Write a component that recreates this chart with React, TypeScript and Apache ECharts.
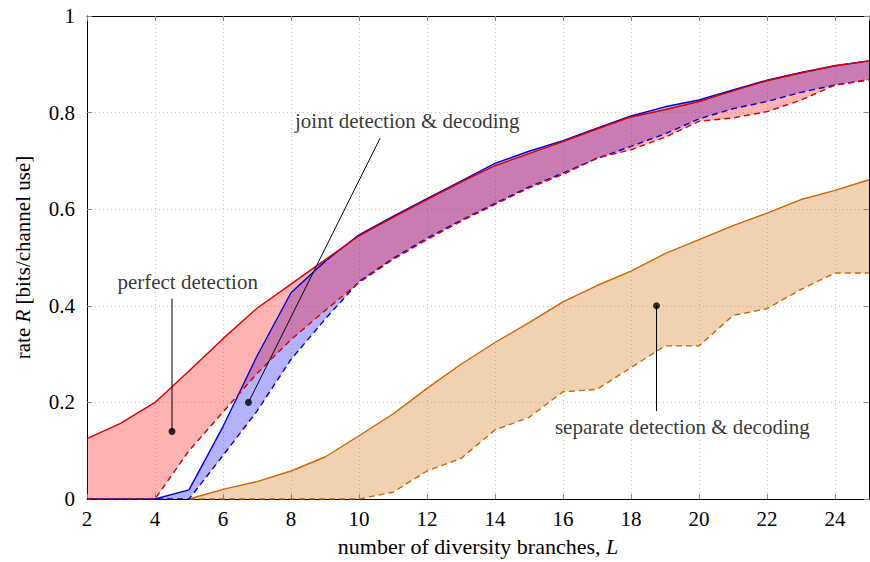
import React, { useEffect, useRef } from "react";
import * as echarts from "echarts";

// number of diversity branches
const L = [2, 3, 4, 5, 6, 7, 8, 9, 10, 11, 12, 13, 14, 15, 16, 17, 18, 19, 20, 21, 22, 23, 24, 25];

// perfect detection (red): upper (solid) and lower (dashed) bounds
const perfectUpper = [0.125, 0.157, 0.2, 0.265, 0.332, 0.395, 0.445, 0.495, 0.545, 0.583, 0.62, 0.656, 0.69, 0.715, 0.74, 0.766, 0.791, 0.806, 0.823, 0.845, 0.866, 0.882, 0.897, 0.907];
const perfectLower = [0, 0, 0, 0.1, 0.18, 0.26, 0.33, 0.39, 0.448, 0.496, 0.537, 0.575, 0.61, 0.644, 0.672, 0.706, 0.723, 0.749, 0.782, 0.789, 0.802, 0.826, 0.857, 0.868];

// joint detection & decoding (blue)
const jointUpper = [0, 0, 0, 0.019, 0.15, 0.296, 0.427, 0.492, 0.547, 0.585, 0.622, 0.658, 0.695, 0.72, 0.742, 0.768, 0.793, 0.812, 0.826, 0.847, 0.867, 0.883, 0.897, 0.907];
const jointLower = [0, 0, 0, 0, 0.09, 0.182, 0.289, 0.372, 0.45, 0.498, 0.54, 0.577, 0.612, 0.646, 0.675, 0.705, 0.73, 0.756, 0.787, 0.808, 0.823, 0.842, 0.857, 0.868];

// separate detection & decoding (orange)
const sepUpper = [null, null, null, 0, 0.02, 0.036, 0.058, 0.087, 0.131, 0.176, 0.229, 0.279, 0.324, 0.365, 0.408, 0.442, 0.472, 0.508, 0.537, 0.566, 0.592, 0.62, 0.639, 0.661];
const sepLower = [null, null, null, 0, 0, 0, 0, 0, 0, 0.014, 0.058, 0.084, 0.143, 0.169, 0.222, 0.227, 0.272, 0.317, 0.317, 0.38, 0.394, 0.434, 0.468, 0.468];

// annotations: text anchor, pointer start, pointer dot
const annotationTexts = ["perfect detection", "joint detection & decoding", "separate detection & decoding"];
const annotationTextPos = [[4.96, 0.45], [11.42, 0.783], [19.51, 0.149]];
const annotationLineStart = [[4.5, 0.415], [10.62, 0.747], [18.75, 0.182]];
const annotationDot = [[4.5, 0.14], [6.75, 0.2], [18.75, 0.4]];

const FONT = "'Liberation Serif', 'DejaVu Serif', serif";
const RED = "#d40000";
const BLUE = "#0000d0";
const ORANGE = "#cc6600";

function pairs(ys: (number | null)[]) {
  return L.map((x, i) => [x, ys[i]]);
}

function band(upper: (number | null)[], lower: (number | null)[], fill: string, z: number) {
  return {
    type: "custom",
    data: [[2, 0]],
    z,
    silent: true,
    renderItem: (_params: any, api: any) => {
      const top: number[][] = [];
      const bot: number[][] = [];
      for (let i = 0; i < L.length; i++) {
        if (upper[i] == null || lower[i] == null) continue;
        top.push(api.coord([L[i], upper[i]]));
        bot.push(api.coord([L[i], lower[i]]));
      }
      return {
        type: "polygon",
        shape: { points: top.concat(bot.reverse()) },
        style: { fill },
      };
    },
  };
}

function line(ys: (number | null)[], color: string, dashed: boolean, z: number) {
  return {
    type: "line",
    data: pairs(ys),
    showSymbol: false,
    symbol: "none",
    z,
    silent: true,
    lineStyle: { color, width: 1.4, type: dashed ? [6, 4] : "solid" },
  };
}

export default function App() {
  const ref = useRef<HTMLDivElement>(null);
  useEffect(() => {
    if (!ref.current) return;
    const chart = echarts.init(ref.current, undefined, { renderer: "svg" });
    const axisCommon = {
      type: "value" as const,
      axisLine: { show: true, onZero: false, lineStyle: { color: "#000", width: 1 } },
      axisTick: { show: true, inside: true, length: 5, lineStyle: { color: "#888" } },
    };
    const annotationSeries: any[] = [];
    annotationTexts.forEach((t, i) => {
      annotationSeries.push({
        type: "line",
        data: [annotationLineStart[i], annotationDot[i]],
        symbol: "none",
        z: 20,
        silent: true,
        lineStyle: { color: "#000", width: 1 },
      });
      annotationSeries.push({
        type: "scatter",
        data: [annotationDot[i]],
        symbolSize: 7,
        z: 21,
        silent: true,
        itemStyle: { color: "#000" },
      });
      annotationSeries.push({
        type: "scatter",
        data: [annotationTextPos[i]],
        symbolSize: 0,
        z: 22,
        silent: true,
        label: {
          show: true,
          position: "inside",
          formatter: t,
          color: "#000",
          fontFamily: FONT,
          fontSize: 21,
        },
      });
    });

    chart.setOption({
      animation: false,
      grid: { left: 87, right: 1, top: 16, bottom: 62 },
      xAxis: [
        {
          ...axisCommon,
          position: "bottom",
          min: 2,
          max: 25,
          interval: 2,
          name: "number of diversity branches, {i|L}",
          nameLocation: "middle",
          nameGap: 36,
          nameTextStyle: {
            fontFamily: FONT,
            fontSize: 22,
            color: "#000",
            rich: { i: { fontFamily: FONT, fontSize: 22, fontStyle: "italic", color: "#000" } },
          },
          axisLabel: { fontFamily: FONT, fontSize: 21, color: "#000", margin: 9, showMaxLabel: false },
          splitLine: { show: true, lineStyle: { color: "#c8c8c8", type: [1, 3], width: 1 } },
        },
        {
          ...axisCommon,
          position: "top",
          min: 2,
          max: 25,
          interval: 2,
          axisLabel: { show: false },
          splitLine: { show: false },
        },
      ],
      yAxis: [
        {
          ...axisCommon,
          position: "left",
          min: 0,
          max: 1,
          interval: 0.2,
          name: "rate {i|R} [bits/channel use]",
          nameLocation: "middle",
          nameGap: 54,
          nameTextStyle: {
            fontFamily: FONT,
            fontSize: 21,
            color: "#000",
            rich: { i: { fontFamily: FONT, fontSize: 21, fontStyle: "italic", color: "#000" } },
          },
          axisLabel: { fontFamily: FONT, fontSize: 21, color: "#000", margin: 12 },
          splitLine: { show: true, lineStyle: { color: "#c8c8c8", type: [1, 3], width: 1 } },
        },
        {
          ...axisCommon,
          position: "right",
          min: 0,
          max: 1,
          interval: 0.2,
          axisLabel: { show: false },
          splitLine: { show: false },
        },
      ],
      series: [
        band(sepUpper, sepLower, "rgba(204,102,0,0.3)", 1),
        band(jointUpper, jointLower, "rgba(0,0,255,0.3)", 2),
        band(perfectUpper, perfectLower, "rgba(255,0,0,0.3)", 3),
        line(sepUpper, ORANGE, false, 5),
        line(sepLower, ORANGE, true, 5),
        line(jointUpper, BLUE, false, 6),
        line(jointLower, BLUE, true, 6),
        line(perfectUpper, RED, false, 7),
        line(perfectLower, RED, true, 7),
        ...annotationSeries,
      ],
    });
    return () => chart.dispose();
  }, []);
  return (
    <div
      ref={ref}
      style={{ position: "fixed", left: 0, top: 0, width: 870, height: 562, background: "#fff" }}
    />
  );
}
